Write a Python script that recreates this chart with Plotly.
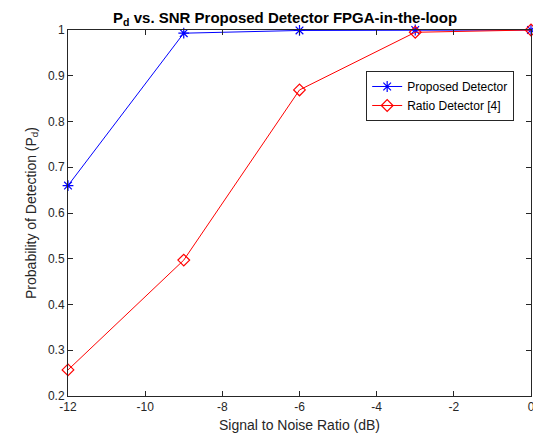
import plotly.graph_objects as go

snr = [-12, -9, -6, -3, 0]
proposed = [0.66, 0.993, 0.999, 1.0, 1.0]
ratio = [0.257, 0.497, 0.869, 0.995, 1.0]
x_ticks = [-12, -10, -8, -6, -4, -2, 0]
y_ticks = [0.2, 0.3, 0.4, 0.5, 0.6, 0.7, 0.8, 0.9, 1]

fig = go.Figure()
fig.add_trace(go.Scatter(x=snr, y=proposed, mode="lines+markers", name="Proposed Detector",
                         cliponaxis=False,
                         line=dict(color="#0000ff", width=1),
                         marker=dict(symbol="asterisk-open", size=9, color="#0000ff",
                                     line=dict(color="#0000ff", width=1.2))))
fig.add_trace(go.Scatter(x=snr, y=ratio, mode="lines+markers", name="Ratio Detector [4]",
                         cliponaxis=False,
                         line=dict(color="#ff0000", width=1),
                         marker=dict(symbol="diamond-open", size=9, color="#ff0000",
                                     line=dict(color="#ff0000", width=1.2))))

axis_common = dict(showline=True, linecolor="#262626", linewidth=1, mirror="ticks",
                   ticks="inside", ticklen=5, tickcolor="#262626", showgrid=False,
                   zeroline=False, tickfont=dict(size=12, color="#262626"))

fig.update_layout(
    width=537, height=437,
    margin=dict(l=60, r=10, t=22, b=49),
    paper_bgcolor="white", plot_bgcolor="white",
    font=dict(family="Liberation Sans, Arial, sans-serif", color="#262626"),
    title=dict(text="<b>P<sub>d</sub> vs. SNR Proposed Detector FPGA-in-the-loop</b>",
               x=0.516, xanchor="center", y=0.99, yanchor="top",
               font=dict(size=15, color="black")),
    xaxis=dict(range=[-12, 0], tickvals=x_ticks, ticktext=[str(v) for v in x_ticks],
               title=dict(text="Signal to Noise Ratio (dB)", font=dict(size=14), standoff=6),
               **axis_common),
    yaxis=dict(range=[0.2, 1], tickvals=y_ticks, ticktext=[("%g" % v) for v in y_ticks],
               title=dict(text="Probability of Detection (P<sub>d</sub>)", font=dict(size=14), standoff=8),
               **axis_common),
    legend=dict(x=0.644, y=0.888, xanchor="left", yanchor="top",
                bgcolor="white", bordercolor="#262626", borderwidth=1,
                font=dict(size=12, color="black"), tracegroupgap=0,
                itemwidth=30),
    showlegend=True,
)

fig.write_html("out.html")
